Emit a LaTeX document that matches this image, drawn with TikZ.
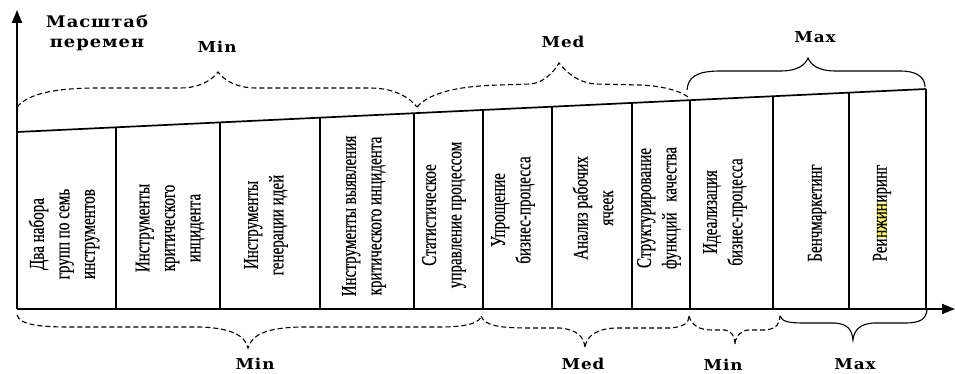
\documentclass[tikz,border=0pt]{standalone}
\usepackage{fontspec}
\usetikzlibrary{arrows.meta}
\setmainfont{Liberation Serif}
\newfontfamily\cellfont[FakeStretch=0.72, FakeBold=0.35]{Liberation Serif}
\newfontfamily\labfont[FakeStretch=1.12, LetterSpace=6]{DejaVu Serif}
\definecolor{hlyellow}{RGB}{255,250,110}
\newcommand{\hlmark}[1]{{\setlength{\fboxsep}{0.5pt}\colorbox{hlyellow}{#1}}}
\tikzset{
  axisline/.style={line width=1.8pt, -{Triangle[length=13pt,width=10pt]}},
  boxline/.style={line width=1.7pt},
  thinline/.style={line width=1.1pt},
  dashbrace/.style={line width=1.1pt, dash pattern=on 5pt off 3pt},
  solidbrace/.style={line width=1.1pt},
  celltext/.style={rotate=90, align=center, inner sep=0pt,
    font=\cellfont\fontsize{21}{25.5}\selectfont},
  grouplabel/.style={inner sep=0pt, font=\labfont\bfseries\fontsize{15}{18}\selectfont},
}
\begin{document}
\begin{tikzpicture}[x=1pt, y=-1pt]
\useasboundingbox (0,0) rectangle (955,374);

% base points of the column dividers and their tops on the sloping line
\coordinate (b0) at (17,309);   \coordinate (t0) at (17,132);
\coordinate (b1) at (116,309);  \coordinate (t1) at (116,127.3);
\coordinate (b2) at (220,309);  \coordinate (t2) at (220,122.4);
\coordinate (b3) at (320,309);  \coordinate (t3) at (320,117.7);
\coordinate (b4) at (414,309);  \coordinate (t4) at (414,113.2);
\coordinate (b5) at (483,309);  \coordinate (t5) at (483,110.0);
\coordinate (b6) at (552,309);  \coordinate (t6) at (552,106.7);
\coordinate (b7) at (632,309);  \coordinate (t7) at (632,102.9);
\coordinate (b8) at (690,309);  \coordinate (t8) at (690,100.2);
\coordinate (b9) at (773,309);  \coordinate (t9) at (773,96.2);
\coordinate (b10) at (849,309); \coordinate (t10) at (849,92.6);
\coordinate (b11) at (926,309); \coordinate (t11) at (926,89);
\coordinate (ytip) at (17,10);
\coordinate (xtip) at (955,309);

% axes
\draw[axisline] (b0) -- (ytip);
\draw[axisline] (b0) -- (xtip);

% sloping upper edge and column dividers
\draw[boxline] (t0) -- (t11);
\draw[thinline] (t1) -- (b1);
\draw[boxline] (t2) -- (b2);
\draw[thinline] (t3) -- (b3);
\draw[boxline] (t4) -- (b4);
\draw[boxline] (t5) -- (b5);
\draw[thinline] (t6) -- (b6);
\draw[boxline] (t7) -- (b7);
\draw[boxline] (t8) -- (b8);
\draw[boxline] (t9) -- (b9);
\draw[thinline] (t10) -- (b10);
\draw[boxline] (t11) -- (b11);

% column texts
\node[celltext] (c1) at (64,234) {Два набора\\групп по семь\\инструментов};
\node[celltext] (c2) at (170,228) {Инструменты\\критического\\инцидента};
\node[celltext] (c3) at (266,225) {Инструменты\\генерации идей};
\node[celltext] (c4) at (364,216) {Инструменты выявления\\критического инцидента};
\node[celltext] (c5) at (444,215) {Статистическое\\управление процессом};
\node[celltext] (c6) at (513,210) {Упрощение\\бизнес-процесса};
\node[celltext] (c7) at (593,208) {Анализ рабочих\\ячеек};
\node[celltext] (c8) at (659,208) {Структурирование\\функций\enspace качества};
\node[celltext] (c9) at (725,212) {Идеализация\\бизнес-процесса};
\node[celltext] (c10) at (817,213) {Бенчмаркетинг};
\node[celltext] (c11) at (882,213) {Реи\hlmark{нжин}иринг};

% axis caption
\node[grouplabel, font=\labfont\bfseries\fontsize{16}{20}\selectfont, align=center]
  (ycap) at (97,33) {Масштаб\\перемен};

% upper braces
\draw[dashbrace] (17,107) .. controls (30,92) and (60,88) .. (100,88)
  -- (180,88) .. controls (200,88) and (212,80) .. (218,72)
  .. controls (224,80) and (236,88) .. (256,88)
  -- (370,88) .. controls (395,88) and (410,98) .. (417,107);
\draw[dashbrace] (417,107) .. controls (430,92) and (460,86) .. (500,85)
  -- (530,84) .. controls (545,83) and (555,70) .. (559,63)
  .. controls (565,70) and (575,82) .. (595,84)
  -- (640,85) .. controls (665,86) and (682,92) .. (688,97);
\draw[solidbrace] (687,90) .. controls (688,78) and (695,71) .. (720,71)
  -- (780,71) .. controls (798,71) and (805,65) .. (808,58)
  .. controls (811,65) and (818,71) .. (836,71)
  -- (900,71) .. controls (918,71) and (925,78) .. (925,87);
\node[grouplabel] (tmin) at (217,47) {Min};
\node[grouplabel] (tmed) at (563,42) {Med};
\node[grouplabel] (tmax) at (815,37) {Max};

% lower braces
\draw[dashbrace] (17,315) .. controls (20,325) and (40,327) .. (70,327)
  -- (200,327) .. controls (230,328) and (245,335) .. (248,348)
  .. controls (252,335) and (265,328) .. (300,327)
  -- (440,327) .. controls (470,327) and (480,322) .. (481,316);
\draw[dashbrace] (481,316) .. controls (485,326) and (500,328) .. (530,328)
  -- (560,328) .. controls (578,330) and (584,337) .. (585,348)
  .. controls (586,337) and (595,329) .. (615,328)
  -- (670,328) .. controls (685,327) and (689,322) .. (689,316);
\draw[dashbrace] (689,316) .. controls (692,326) and (700,330) .. (712,330)
  -- (725,330) .. controls (732,331) and (735,337) .. (735,345)
  .. controls (735,337) and (740,331) .. (748,330)
  -- (765,330) .. controls (777,329) and (780,323) .. (780,316);
\draw[solidbrace] (780,316) .. controls (782,322) and (790,323) .. (805,323)
  -- (835,323) .. controls (848,324) and (852,330) .. (853,340)
  .. controls (854,330) and (860,324) .. (873,323)
  -- (905,323) .. controls (922,323) and (926,318) .. (927,310);
\node[grouplabel] (bmin) at (255,364) {Min};
\node[grouplabel] (bmed) at (583,364) {Med};
\node[grouplabel] (bmin2) at (723,365) {Min};
\node[grouplabel] (bmax) at (855,364) {Max};
\end{tikzpicture}
\end{document}
